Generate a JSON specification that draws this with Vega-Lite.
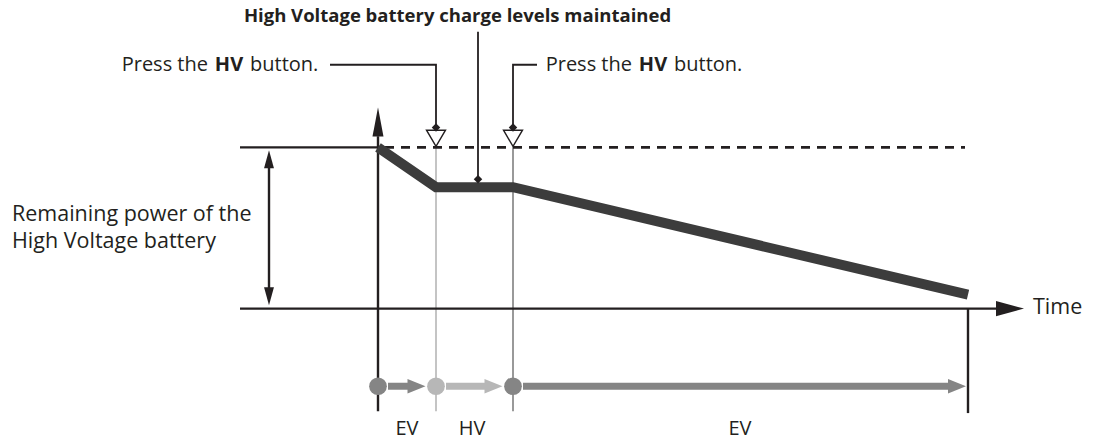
{
  "$schema": "https://vega.github.io/schema/vega-lite/v6.json",
  "width": 1097,
  "height": 440,
  "padding": 0,
  "autosize": {"type": "fit", "contains": "padding"},
  "background": "white",
  "config": {
    "view": {"stroke": null},
    "axis": {"disable": true},
    "legend": {"disable": true},
    "text": {"font": "Open Sans", "fontSize": 20, "color": "#231f20", "baseline": "alphabetic"}
  },
  "datasets": {
    "axes": [
      {"t": -13.8, "t2": 0, "L": 100, "L2": 100},
      {"t": -13.8, "t2": 61.8, "L": 0, "L2": 0},
      {"t": 0, "t2": 0, "L": 106.8, "L2": -63.6},
      {"t": 59, "t2": 59, "L": 0, "L2": -64.8},
      {"t": -10.9, "t2": -10.9, "L": 92.6, "L2": 7.7}
    ],
    "full": [{"t": 0.7, "t2": 58.7, "L": 100}],
    "switchHV": [{"t": 5.8, "L": 100, "L2": -63.6}],
    "switchEV": [{"t": 13.5, "L": 100, "L2": -63.6}],
    "callouts": [
      {"id": "a", "o": 1, "t": -4.8, "L": 151.2},
      {"id": "a", "o": 2, "t": 5.8, "L": 151.2},
      {"id": "a", "o": 3, "t": 5.8, "L": 112.3},
      {"id": "b", "o": 1, "t": 10, "L": 171.6},
      {"id": "b", "o": 2, "t": 10, "L": 80.2},
      {"id": "c", "o": 1, "t": 13.5, "L": 112.3},
      {"id": "c", "o": 2, "t": 13.5, "L": 151.2},
      {"id": "c", "o": 3, "t": 15.9, "L": 151.2}
    ],
    "charge": [
      {"t": 0, "L": 100},
      {"t": 5.8, "L": 75.3},
      {"t": 13.5, "L": 75.3},
      {"t": 59, "L": 8.6}
    ],
    "headUpAxis": [{"t": 0, "L": 115.7}],
    "headTime": [{"t": 63.2, "L": 0}],
    "headUp": [{"t": -10.9, "L": 92.6}],
    "headDown": [{"t": -10.9, "L": 7.7}],
    "presses": [{"t": 5.8, "L": 105.6}, {"t": 13.5, "L": 105.6}],
    "diamonds": [{"t": 5.8, "L": 112.3}, {"t": 13.5, "L": 112.3}, {"t": 10, "L": 80.2}],
    "modePoints": [
      {"t": 0, "L": -48.15, "mode": "EV"},
      {"t": 5.8, "L": -48.15, "mode": "HV"},
      {"t": 13.5, "L": -48.15, "mode": "EV"}
    ],
    "modeShafts": [
      {"t": 1.0, "t2": 3.2, "L": -48.15, "mode": "EV"},
      {"t": 6.8, "t2": 10.9, "L": -48.15, "mode": "HV"},
      {"t": 14.5, "t2": 57.2, "L": -48.15, "mode": "EV"}
    ],
    "modeHeads": [
      {"t": 3.85, "L": -48.15, "mode": "EV"},
      {"t": 11.55, "L": -48.15, "mode": "HV"},
      {"t": 57.9, "L": -48.15, "mode": "EV"}
    ],
    "textButton": [
      {"t": -12.8, "L": 147.22, "label": "button."},
      {"t": 29.6, "L": 147.22, "label": "button."}
    ],
    "textLabels": [
      {"t": -36.6, "L": 54.32, "label": "Remaining power of the"},
      {"t": -36.6, "L": 37.65, "label": "High Voltage battery"},
      {"t": 65.5, "L": -3.09, "label": "Time"}
    ],
    "textRight": [
      {"t": -17, "L": 147.22, "label": "Press the"},
      {"t": 25.4, "L": 147.22, "label": "Press the"}
    ],
    "textTitle": [
      {"t": 7.95, "L": 177.78, "label": "High Voltage battery charge levels maintained"}
    ],
    "textBold": [
      {"t": -14.9, "L": 147.22, "label": "HV"},
      {"t": 27.5, "L": 147.22, "label": "HV"}
    ],
    "textModes": [
      {"t": 2.9, "L": -78.4, "label": "EV"},
      {"t": 9.4, "L": -78.4, "label": "HV"},
      {"t": 36.2, "L": -78.4, "label": "EV"}
    ]
  },
  "layer": [
    {
      "data": {"name": "switchHV"},
      "mark": {"type": "rule", "stroke": "#9d9d9d", "strokeWidth": 1.2},
      "encoding": {
        "x": {"field": "t", "type": "quantitative", "scale": {"domain": [-37.8, 71.9], "nice": false, "zero": false}},
        "y": {"field": "L", "type": "quantitative", "scale": {"domain": [-80.25, 191.36], "nice": false, "zero": false}},
        "y2": {"field": "L2"}
      }
    },
    {
      "data": {"name": "switchEV"},
      "mark": {"type": "rule", "stroke": "#555555", "strokeWidth": 1.2},
      "encoding": {
        "x": {"field": "t", "type": "quantitative"},
        "y": {"field": "L", "type": "quantitative"},
        "y2": {"field": "L2"}
      }
    },
    {
      "data": {"name": "full"},
      "mark": {"type": "rule", "stroke": "#231f20", "strokeWidth": 2.6, "strokeDash": [9, 7]},
      "encoding": {
        "x": {"field": "t", "type": "quantitative"},
        "x2": {"field": "t2"},
        "y": {"field": "L", "type": "quantitative"}
      }
    },
    {
      "data": {"name": "axes"},
      "mark": {"type": "rule", "stroke": "#231f20", "strokeWidth": 2.4},
      "encoding": {
        "x": {"field": "t", "type": "quantitative"},
        "x2": {"field": "t2"},
        "y": {"field": "L", "type": "quantitative"},
        "y2": {"field": "L2"}
      }
    },
    {
      "data": {"name": "charge"},
      "mark": {"type": "line", "stroke": "#3c3c3c", "strokeWidth": 10, "strokeCap": "butt", "strokeJoin": "miter"},
      "encoding": {
        "x": {"field": "t", "type": "quantitative"},
        "y": {"field": "L", "type": "quantitative"}
      }
    },
    {
      "data": {"name": "callouts"},
      "mark": {"type": "line", "stroke": "#231f20", "strokeWidth": 1.8, "strokeCap": "butt", "strokeJoin": "miter"},
      "encoding": {
        "x": {"field": "t", "type": "quantitative"},
        "y": {"field": "L", "type": "quantitative"},
        "detail": {"field": "id"},
        "order": {"field": "o"}
      }
    },
    {
      "data": {"name": "headUpAxis"},
      "mark": {"type": "point", "filled": true, "opacity": 1, "color": "#231f20", "shape": "M0,-1L-0.38,1L0.38,1Z", "size": 841},
      "encoding": {
        "x": {"field": "t", "type": "quantitative"},
        "y": {"field": "L", "type": "quantitative"}
      }
    },
    {
      "data": {"name": "headTime"},
      "mark": {"type": "point", "filled": true, "opacity": 1, "color": "#231f20", "shape": "M1,0L-1,-0.54L-1,0.54Z", "size": 784},
      "encoding": {
        "x": {"field": "t", "type": "quantitative"},
        "y": {"field": "L", "type": "quantitative"}
      }
    },
    {
      "data": {"name": "headUp"},
      "mark": {"type": "point", "filled": true, "opacity": 1, "color": "#231f20", "shape": "M0,-1L-0.55,1L0.55,1Z", "size": 324},
      "encoding": {
        "x": {"field": "t", "type": "quantitative"},
        "y": {"field": "L", "type": "quantitative"}
      }
    },
    {
      "data": {"name": "headDown"},
      "mark": {"type": "point", "filled": true, "opacity": 1, "color": "#231f20", "shape": "M0,1L-0.55,-1L0.55,-1Z", "size": 324},
      "encoding": {
        "x": {"field": "t", "type": "quantitative"},
        "y": {"field": "L", "type": "quantitative"}
      }
    },
    {
      "data": {"name": "presses"},
      "mark": {"type": "point", "filled": false, "fill": "white", "fillOpacity": 1, "opacity": 1, "stroke": "#231f20", "strokeWidth": 1.4, "shape": "M-1,-0.85L1,-0.85L0,0.85Z", "size": 361},
      "encoding": {
        "x": {"field": "t", "type": "quantitative"},
        "y": {"field": "L", "type": "quantitative"}
      }
    },
    {
      "data": {"name": "diamonds"},
      "mark": {"type": "point", "filled": true, "opacity": 1, "color": "#231f20", "shape": "diamond", "size": 72},
      "encoding": {
        "x": {"field": "t", "type": "quantitative"},
        "y": {"field": "L", "type": "quantitative"}
      }
    },
    {
      "data": {"name": "modeShafts"},
      "mark": {"type": "rule", "strokeWidth": 7, "strokeCap": "butt"},
      "encoding": {
        "x": {"field": "t", "type": "quantitative"},
        "x2": {"field": "t2"},
        "y": {"field": "L", "type": "quantitative"},
        "color": {"field": "mode", "type": "nominal", "scale": {"domain": ["EV", "HV"], "range": ["#858585", "#b7b7b7"]}}
      }
    },
    {
      "data": {"name": "modeHeads"},
      "mark": {"type": "point", "filled": true, "opacity": 1, "shape": "M1,0L-1,-0.8L-1,0.8Z", "size": 324},
      "encoding": {
        "x": {"field": "t", "type": "quantitative"},
        "y": {"field": "L", "type": "quantitative"},
        "color": {"field": "mode", "type": "nominal"}
      }
    },
    {
      "data": {"name": "modePoints"},
      "mark": {"type": "point", "filled": true, "opacity": 1, "shape": "circle", "size": 314},
      "encoding": {
        "x": {"field": "t", "type": "quantitative"},
        "y": {"field": "L", "type": "quantitative"},
        "color": {"field": "mode", "type": "nominal"}
      }
    },
    {
      "data": {"name": "textButton"},
      "mark": {"type": "text", "align": "left"},
      "encoding": {
        "x": {"field": "t", "type": "quantitative"},
        "y": {"field": "L", "type": "quantitative"},
        "text": {"field": "label"}
      }
    },
    {
      "data": {"name": "textLabels"},
      "mark": {"type": "text", "align": "left", "fontSize": 21.5},
      "encoding": {
        "x": {"field": "t", "type": "quantitative"},
        "y": {"field": "L", "type": "quantitative"},
        "text": {"field": "label"}
      }
    },
    {
      "data": {"name": "textRight"},
      "mark": {"type": "text", "align": "right"},
      "encoding": {
        "x": {"field": "t", "type": "quantitative"},
        "y": {"field": "L", "type": "quantitative"},
        "text": {"field": "label"}
      }
    },
    {
      "data": {"name": "textTitle"},
      "mark": {"type": "text", "align": "center", "fontWeight": "bold", "fontSize": 18.5},
      "encoding": {
        "x": {"field": "t", "type": "quantitative"},
        "y": {"field": "L", "type": "quantitative"},
        "text": {"field": "label"}
      }
    },
    {
      "data": {"name": "textBold"},
      "mark": {"type": "text", "align": "center", "fontWeight": "bold"},
      "encoding": {
        "x": {"field": "t", "type": "quantitative"},
        "y": {"field": "L", "type": "quantitative"},
        "text": {"field": "label"}
      }
    },
    {
      "data": {"name": "textModes"},
      "mark": {"type": "text", "align": "center"},
      "encoding": {
        "x": {"field": "t", "type": "quantitative"},
        "y": {"field": "L", "type": "quantitative"},
        "text": {"field": "label"}
      }
    }
  ]
}
